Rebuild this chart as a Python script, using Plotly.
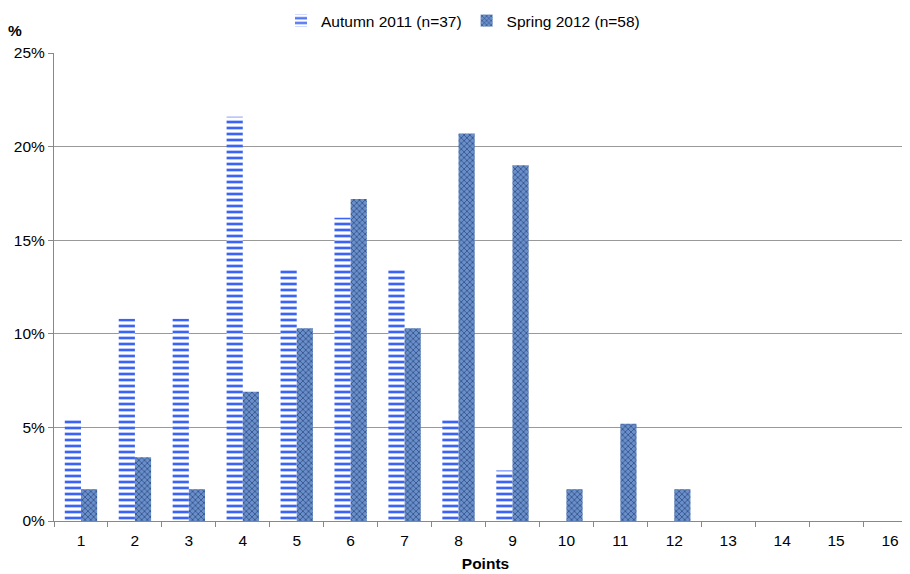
import plotly.graph_objects as go

points = [str(i) for i in range(1, 17)]
autumn = [5.4, 10.8, 10.8, 21.6, 13.5, 16.2, 13.5, 5.4, 2.7, 0, 0, 0, 0, 0, 0, 0]
spring = [1.7, 3.4, 1.7, 6.9, 10.3, 17.2, 10.3, 20.7, 19.0, 1.7, 5.2, 1.7, 0, 0, 0, 0]
y_ticks = [0, 5, 10, 15, 20, 25]
y_labels = ["0%", "5%", "10%", "15%", "20%", "25%"]

FS = 15.5

fig = go.Figure()
fig.add_bar(
    x=points, y=autumn, name="Autumn 2011 (n=37)",
    marker=dict(color="white", line=dict(width=0),
                pattern=dict(shape="-", fgcolor="#3b63f5", bgcolor="white",
                             size=6, solidity=0.45, fillmode="replace")),
)
fig.add_bar(
    x=points, y=spring, name="Spring 2012 (n=58)",
    marker=dict(color="#5f88c6", line=dict(width=0),
                pattern=dict(shape="x", fgcolor="#243f73", bgcolor="#6a90cc",
                             size=4, solidity=0.3, fillmode="replace")),
)

fig.update_layout(
    width=910, height=574,
    margin=dict(l=46, r=1, t=45, b=61, autoexpand=False),
    paper_bgcolor="white", plot_bgcolor="white",
    font=dict(family="Liberation Sans, Arial, sans-serif", size=FS, color="black"),
    barmode="group", bargap=0.4, bargroupgap=0,
    showlegend=True,
    legend=dict(orientation="h", x=0.5, xref="container", xanchor="center",
                y=1.0 - 13 / 574, yref="container", yanchor="middle",
                font=dict(size=FS), itemwidth=30, traceorder="normal"),
    xaxis=dict(
        title=dict(text="<b>Points</b>", font=dict(size=FS), standoff=10),
        tickson="boundaries", ticks="outside", ticklen=5, tickcolor="#888",
        showline=True, linecolor="#888", linewidth=1, showgrid=False,
        tickfont=dict(size=FS), automargin=False, ticklabelstandoff=5,
    ),
    yaxis=dict(
        range=[0, 25], tickvals=y_ticks, ticktext=y_labels,
        ticks="outside", ticklen=5, tickcolor="#888",
        showline=True, linecolor="#888", linewidth=1,
        showgrid=True, gridcolor="#999", gridwidth=1,
        tickfont=dict(size=FS), zeroline=False, automargin=False,
    ),
    annotations=[dict(text="<b>%</b>", x=-0.0457, y=1.049, xref="paper", yref="paper",
                      xanchor="center", yanchor="middle", showarrow=False,
                      font=dict(size=FS))],
)

fig.write_html("out.html")
